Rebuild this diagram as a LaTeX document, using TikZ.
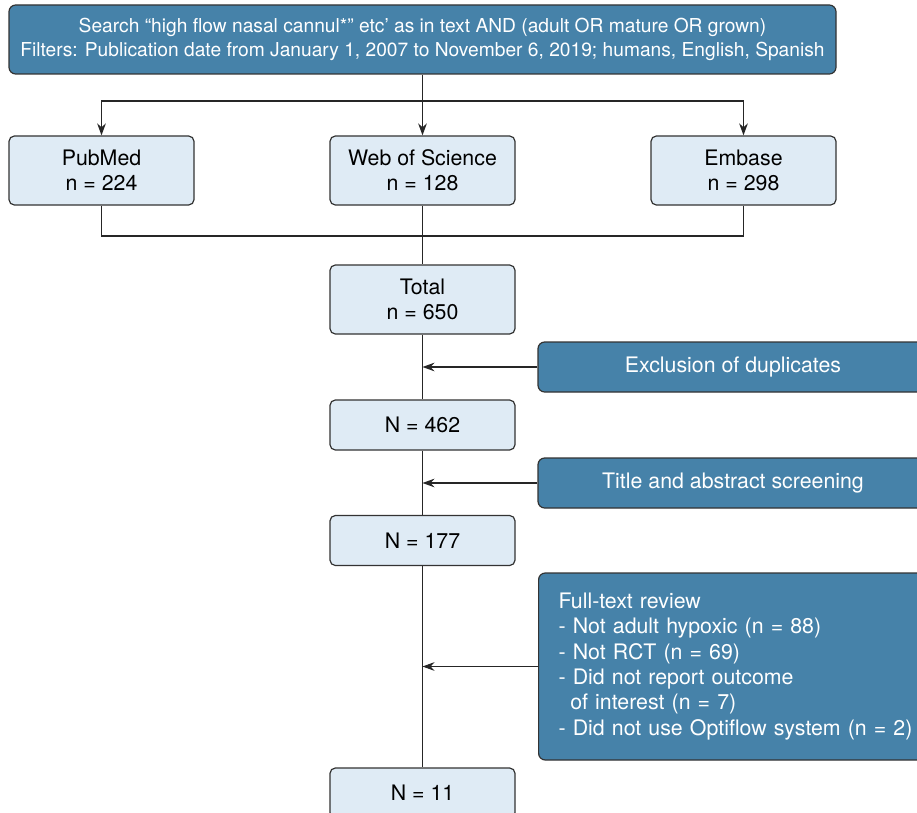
\documentclass[tikz,border=0pt]{standalone}
\usepackage{fontspec}
\setmainfont{TeX Gyre Heros}
\usetikzlibrary{arrows.meta}
\definecolor{darkbox}{RGB}{70,130,169}
\definecolor{lightbox}{RGB}{223,235,245}
\definecolor{edgegray}{RGB}{51,51,51}
\tikzset{
  srcbox/.style={draw=edgegray, fill=lightbox, rounded corners=4pt, line width=0.9pt,
    minimum width=138.75pt, minimum height=51.75pt, align=center, inner sep=0pt},
  countbox/.style={srcbox, minimum height=37.5pt},
  notebox/.style={draw=edgegray, fill=darkbox, text=white, rounded corners=5pt,
    line width=0.9pt, align=center, inner sep=0pt},
  flow/.style={draw=black!85, line width=0.8pt},
  into/.style={flow, -{Stealth[length=9pt,width=6.5pt]}}
}

\begin{document}
\begin{tikzpicture}[x=0.75pt, y=-0.75pt, font=\fontsize{16}{19}\selectfont]
\useasboundingbox (0,0) rectangle (917,813);
% search query
\node[notebox, minimum width=620.25pt, minimum height=51.75pt,
  font=\fontsize{14.4}{18}\selectfont] (search) at (422.5,39.5)
  {Search “high flow nasal cannul*” etc’ as in text AND (adult OR mature OR grown)\\
   Filters: Publication date from January 1, 2007 to November 6, 2019; humans, English, Spanish};
% databases
\node[srcbox] (pubmed) at (101.5,170.5) {PubMed\\n = 224};
\node[srcbox] (wos) at (422.5,170.5) {Web of Science\\n = 128};
\node[srcbox] (embase) at (743.5,170.5) {Embase\\n = 298};
\node[srcbox] (total) at (422.5,299.5) {Total\\n = 650};
% screening steps
\node[countbox] (n462) at (422.5,425) {N = 462};
\node[countbox] (n177) at (422.5,540.5) {N = 177};
\node[countbox] (n11) at (422.5,793) {N = 11};
\node[notebox, minimum width=292.5pt, minimum height=37.5pt] (dup) at (733,367) {\strut Exclusion of duplicates};
\node[notebox, minimum width=292.5pt, minimum height=37.5pt] (screen) at (733,483) {\strut Title and abstract screening};
\node[notebox, anchor=west, align=left, text width=270pt, inner xsep=15pt,
  minimum height=140.25pt] (fulltext) at (538,666.5)
  {Full-text review\\
   - Not adult hypoxic (n = 88)\\
   - Not RCT (n = 69)\\
   - Did not report outcome\\
   \hspace*{0.55em}of interest (n = 7)\\
   - Did not use Optiflow system (n = 2)};
% connectors
\coordinate (split) at (422.5,101);
\coordinate (merge) at (422.5,236);
\draw[flow] (search) -- (split);
\draw[into] (split) -| (pubmed);
\draw[into] (split) -- (wos);
\draw[into] (split) -| (embase);
\draw[flow] (pubmed) |- (merge);
\draw[flow] (embase) |- (merge);
\draw[flow] (wos) -- (total);
\draw[flow] (total) -- (n462);
\draw[flow] (n462) -- (n177);
\draw[flow] (n177) -- (n11);
\draw[into] (dup.west) -- (dup.west -| total.south);
\draw[into] (screen.west) -- (screen.west -| n462.south);
\draw[into] (fulltext.west) -- (fulltext.west -| n177.south);
\end{tikzpicture}
\end{document}
